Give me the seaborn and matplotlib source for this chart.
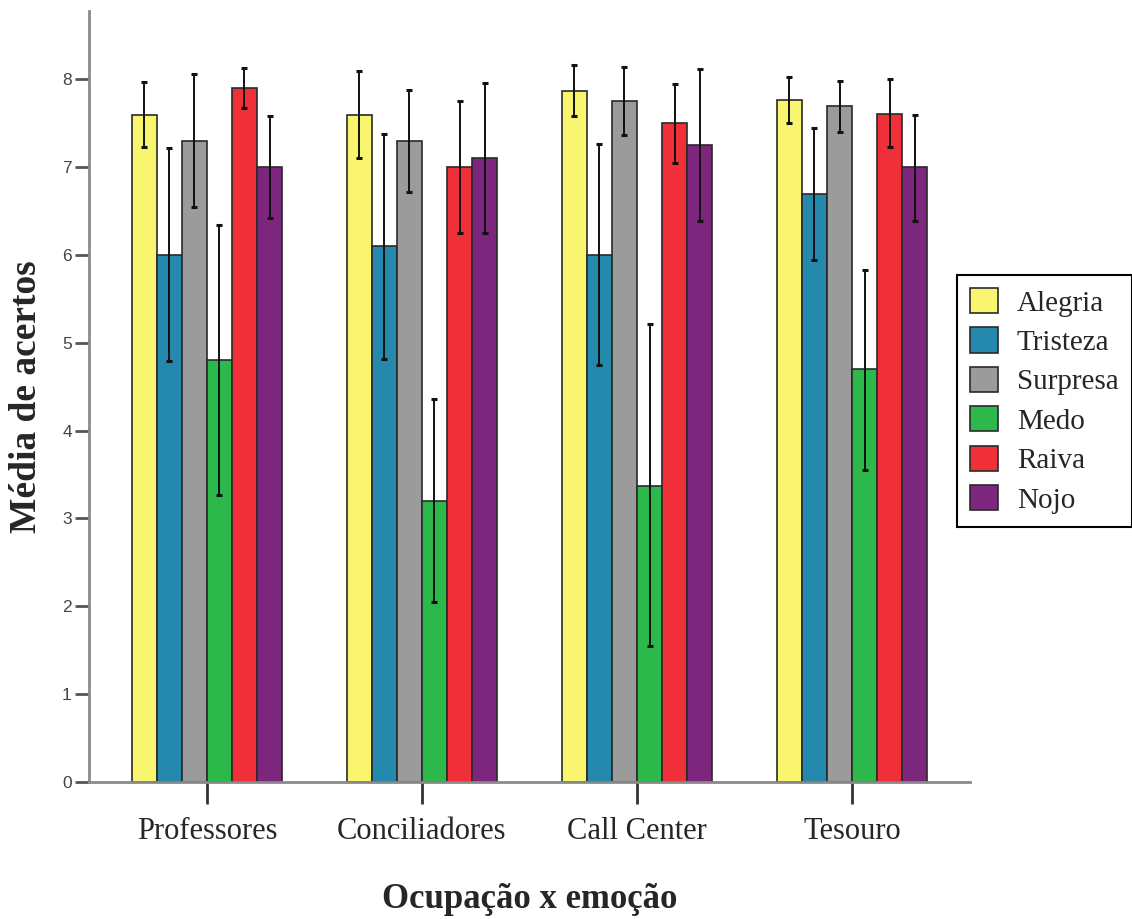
import matplotlib
matplotlib.use("Agg")
import matplotlib.pyplot as plt
import numpy as np
import pandas as pd
import seaborn as sns

# categories
occupations = ["Professores", "Conciliadores", "Call Center", "Tesouro"]
emotions = ["Alegria", "Tristeza", "Surpresa", "Medo", "Raiva", "Nojo"]
colors = ["#FAF56E", "#2589AD", "#9B9B9B", "#2DB84B", "#EF3039", "#7D267E"]

# mean per emotion, one value per occupation
alegria = [7.60, 7.60, 7.87, 7.77]
tristeza = [6.00, 6.10, 6.00, 6.70]
surpresa = [7.30, 7.30, 7.75, 7.70]
medo = [4.80, 3.20, 3.37, 4.70]
raiva = [7.90, 7.00, 7.50, 7.61]
nojo = [7.00, 7.10, 7.25, 7.00]

# error bar ends (lower / upper), same order as emotions
ci_low = [
    [7.23, 7.10, 7.58, 7.50],
    [4.79, 4.82, 4.75, 5.94],
    [6.55, 6.72, 7.37, 7.40],
    [3.26, 2.05, 1.54, 3.55],
    [7.68, 6.25, 7.05, 7.23],
    [6.42, 6.25, 6.39, 6.39],
]
ci_high = [
    [7.97, 8.10, 8.17, 8.03],
    [7.22, 7.38, 7.26, 7.45],
    [8.06, 7.88, 8.14, 7.98],
    [6.34, 4.36, 5.21, 5.83],
    [8.13, 7.75, 7.95, 8.00],
    [7.58, 7.96, 8.12, 7.60],
]

means = [alegria, tristeza, surpresa, medo, raiva, nojo]

rows = []
for emo, vals in zip(emotions, means):
    for occ, v in zip(occupations, vals):
        rows.append({"ocupacao": occ, "emocao": emo, "media": v})
df = pd.DataFrame(rows)

sns.set_theme(style="white")
plt.rcParams["font.family"] = ["Liberation Serif", "DejaVu Serif"]

fig = plt.figure(figsize=(11.32, 9.19), dpi=100)
ax = fig.add_axes([0.0782, 0.1496, 0.7787, 0.838])

sns.barplot(
    data=df, x="ocupacao", y="media", hue="emocao",
    order=occupations, hue_order=emotions, palette=colors,
    width=0.70, errorbar=None, edgecolor="#2a2a2a", linewidth=1.2,
    saturation=1, ax=ax,
)

# error bars at the centre of each drawn bar
for container, vals, lo, hi in zip(ax.containers, means, ci_low, ci_high):
    xs = [b.get_x() + b.get_width() / 2 for b in container]
    vals = np.array(vals)
    yerr = [vals - np.array(lo), np.array(hi) - vals]
    ax.errorbar(xs, vals, yerr=yerr, fmt="none", ecolor="#111111",
                elinewidth=1.4, capsize=2, capthick=2.2, zorder=5)

ax.set_xlim(-0.55, 3.548)
ax.set_ylim(0, 8.776)
ax.set_yticks(range(0, 9))

for side in ["top", "right"]:
    ax.spines[side].set_visible(False)
for side in ["left", "bottom"]:
    ax.spines[side].set_color("#8a8a8a")
    ax.spines[side].set_linewidth(2)

ax.tick_params(axis="x", bottom=True, length=15.8, width=2, color="#333333",
               pad=9.5, labelsize=22)
ax.tick_params(axis="y", left=True, length=10, width=2, color="#555555",
               pad=2, labelsize=12.5, labelcolor="#444444")
for lab in ax.get_yticklabels():
    lab.set_fontfamily("Liberation Sans")

ax.set_xlabel("Ocupação x emoção", fontsize=25, fontweight="bold")
ax.set_ylabel("Média de acertos", fontsize=27, fontweight="bold")
ax.xaxis.set_label_coords(0.5, -0.132)
ax.yaxis.set_label_coords(-0.050, 0.5)

handles, labels = ax.get_legend_handles_labels()
leg = ax.legend(
    handles, labels, loc="upper left", bbox_to_anchor=(0.8454, 0.7008),
    bbox_transform=fig.transFigure, borderaxespad=0, fontsize=21,
    frameon=True, fancybox=False, edgecolor="black", framealpha=1,
    handlelength=0.95, handleheight=0.95, handletextpad=0.65,
    labelspacing=0.37, borderpad=0.45, title=None,
)
leg.get_frame().set_linewidth(1.5)

fig.savefig("out.png", dpi=100)
plt.close(fig)
